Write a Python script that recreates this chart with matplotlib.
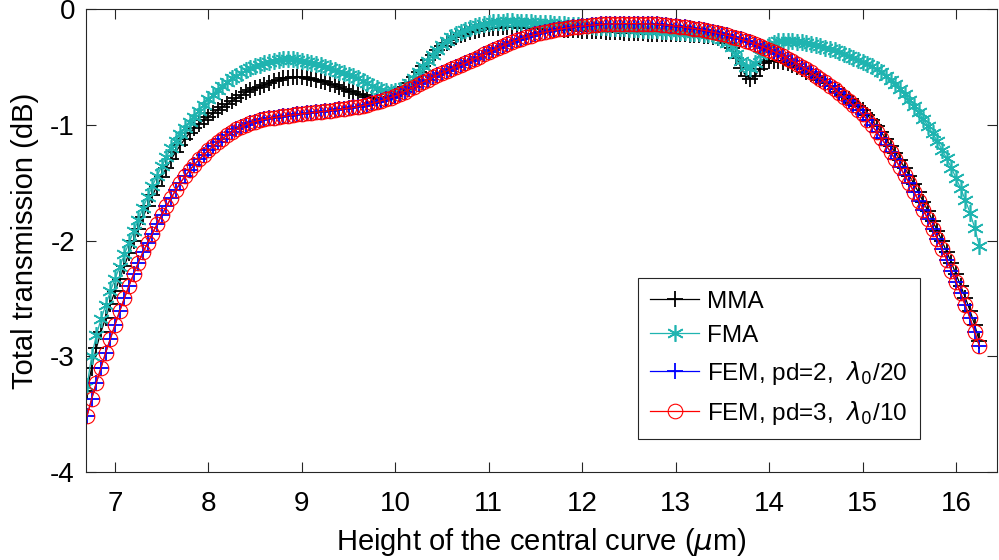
import numpy as np
import matplotlib
matplotlib.use('Agg')
import matplotlib.pyplot as plt

plt.rcParams['font.family'] = ['Liberation Sans', 'DejaVu Sans']
plt.rcParams['mathtext.fontset'] = 'dejavusans'
plt.rcParams['axes.unicode_minus'] = False

# height of the central curve (um), 0.05 um steps from 6.70 to 16.25
height = np.round(6.70 + 0.05 * np.arange(192), 2)

# total transmission (dB)
mma = [
    -3.30, -3.10, -2.93, -2.79, -2.67, -2.55, -2.44, -2.33, -2.22, -2.11,
    -2.00, -1.90, -1.80, -1.70, -1.61, -1.53, -1.45, -1.37, -1.30, -1.235,
    -1.175, -1.12, -1.07, -1.03, -0.99, -0.96, -0.93, -0.90, -0.87, -0.845,
    -0.82, -0.795, -0.77, -0.745, -0.72, -0.70, -0.685, -0.67, -0.655, -0.64,
    -0.625, -0.61, -0.60, -0.592, -0.588, -0.587, -0.59, -0.595, -0.602, -0.61,
    -0.62, -0.632, -0.645, -0.66, -0.675, -0.69, -0.705, -0.72, -0.733, -0.745,
    -0.756, -0.765, -0.772, -0.775, -0.772, -0.76, -0.74, -0.71, -0.675, -0.635,
    -0.59, -0.54, -0.49, -0.44, -0.395, -0.355, -0.32, -0.29, -0.265, -0.245,
    -0.228, -0.213, -0.2, -0.19, -0.181, -0.174, -0.168, -0.164, -0.161, -0.159,
    -0.158, -0.158, -0.159, -0.16, -0.162, -0.164, -0.166, -0.168, -0.17, -0.172,
    -0.174, -0.176, -0.178, -0.18, -0.182, -0.184, -0.186, -0.188, -0.19, -0.192,
    -0.194, -0.196, -0.198, -0.2, -0.202, -0.204, -0.206, -0.208, -0.21, -0.211,
    -0.212, -0.213, -0.214, -0.215, -0.216, -0.217, -0.218, -0.219, -0.22, -0.222,
    -0.224, -0.227, -0.23, -0.234, -0.24, -0.25, -0.265, -0.29, -0.34, -0.42,
    -0.51, -0.575, -0.605, -0.58, -0.515, -0.47, -0.452, -0.447, -0.448, -0.455,
    -0.467, -0.483, -0.502, -0.522, -0.543, -0.565, -0.588, -0.612, -0.637, -0.663,
    -0.69, -0.718, -0.747, -0.777, -0.808, -0.84, -0.875, -0.915, -0.96, -1.01,
    -1.065, -1.12, -1.18, -1.24, -1.305, -1.37, -1.44, -1.51, -1.585, -1.665,
    -1.745, -1.83, -1.915, -2.005, -2.095, -2.19, -2.29, -2.39, -2.495, -2.605,
    -2.73, -2.87,
]

fma = [
    -3.26, -3.00, -2.82, -2.68, -2.56, -2.44, -2.33, -2.23, -2.12, -2.02,
    -1.92, -1.82, -1.72, -1.62, -1.53, -1.44, -1.36, -1.28, -1.20, -1.14,
    -1.08, -1.03, -0.98, -0.93, -0.88, -0.83, -0.78, -0.74, -0.70, -0.665,
    -0.63, -0.60, -0.575, -0.55, -0.53, -0.51, -0.495, -0.48, -0.467, -0.455,
    -0.446, -0.44, -0.436, -0.435, -0.436, -0.44, -0.447, -0.455, -0.465, -0.475,
    -0.487, -0.50, -0.513, -0.527, -0.54, -0.553, -0.567, -0.582, -0.60, -0.62,
    -0.642, -0.663, -0.682, -0.698, -0.709, -0.714, -0.712, -0.70, -0.675, -0.64,
    -0.595, -0.545, -0.495, -0.445, -0.395, -0.35, -0.31, -0.275, -0.245, -0.22,
    -0.20, -0.18, -0.165, -0.15, -0.14, -0.13, -0.12, -0.115, -0.11, -0.108,
    -0.107, -0.107, -0.108, -0.11, -0.112, -0.115, -0.118, -0.12, -0.122, -0.125,
    -0.127, -0.13, -0.133, -0.136, -0.139, -0.142, -0.145, -0.148, -0.15, -0.153,
    -0.155, -0.158, -0.16, -0.163, -0.165, -0.168, -0.17, -0.172, -0.175, -0.177,
    -0.18, -0.182, -0.185, -0.187, -0.19, -0.192, -0.195, -0.197, -0.20, -0.203,
    -0.206, -0.21, -0.215, -0.22, -0.228, -0.24, -0.26, -0.29, -0.33, -0.39,
    -0.45, -0.50, -0.51, -0.47, -0.40, -0.345, -0.31, -0.29, -0.28, -0.275,
    -0.275, -0.278, -0.282, -0.288, -0.295, -0.303, -0.312, -0.322, -0.333, -0.345,
    -0.358, -0.372, -0.388, -0.405, -0.422, -0.44, -0.455, -0.475, -0.495, -0.52,
    -0.545, -0.575, -0.61, -0.65, -0.69, -0.735, -0.785, -0.835, -0.89, -0.95,
    -1.01, -1.075, -1.14, -1.215, -1.29, -1.37, -1.46, -1.55, -1.65, -1.76,
    -1.89, -2.05,
]

fem_pd2 = [
    -3.52, -3.37, -3.23, -3.10, -2.97, -2.85, -2.73, -2.61, -2.50, -2.39,
    -2.29, -2.19, -2.10, -2.02, -1.94, -1.86, -1.78, -1.705, -1.635, -1.565,
    -1.50, -1.445, -1.39, -1.345, -1.30, -1.26, -1.22, -1.185, -1.15, -1.12,
    -1.09, -1.065, -1.04, -1.02, -1.00, -0.985, -0.972, -0.962, -0.953, -0.945,
    -0.938, -0.932, -0.926, -0.92, -0.915, -0.91, -0.905, -0.90, -0.896, -0.892,
    -0.888, -0.883, -0.878, -0.873, -0.868, -0.863, -0.857, -0.85, -0.843, -0.835,
    -0.826, -0.816, -0.805, -0.793, -0.78, -0.765, -0.75, -0.733, -0.714, -0.694,
    -0.673, -0.652, -0.631, -0.61, -0.59, -0.571, -0.553, -0.536, -0.519, -0.502,
    -0.485, -0.467, -0.449, -0.43, -0.411, -0.392, -0.373, -0.354, -0.336, -0.318,
    -0.301, -0.285, -0.27, -0.256, -0.243, -0.231, -0.22, -0.21, -0.2, -0.191,
    -0.183, -0.176, -0.169, -0.163, -0.157, -0.152, -0.147, -0.143, -0.139, -0.136,
    -0.133, -0.131, -0.129, -0.128, -0.127, -0.126, -0.126, -0.126, -0.127, -0.128,
    -0.129, -0.131, -0.133, -0.136, -0.139, -0.143, -0.147, -0.152, -0.157, -0.163,
    -0.169, -0.176, -0.183, -0.191, -0.199, -0.208, -0.217, -0.227, -0.238, -0.249,
    -0.261, -0.274, -0.288, -0.302, -0.317, -0.333, -0.35, -0.368, -0.387, -0.407,
    -0.428, -0.45, -0.473, -0.497, -0.522, -0.548, -0.575, -0.603, -0.632, -0.662,
    -0.693, -0.726, -0.76, -0.795, -0.832, -0.87, -0.91, -0.955, -1.005, -1.06,
    -1.115, -1.175, -1.235, -1.30, -1.365, -1.435, -1.505, -1.58, -1.655, -1.735,
    -1.815, -1.90, -1.985, -2.075, -2.165, -2.26, -2.355, -2.455, -2.56, -2.67,
    -2.79, -2.91,
]

# pd=3 result lies on top of pd=2 at this scale
fem_pd3 = list(fem_pd2)

labels = ['MMA', 'FMA', r'FEM, pd=2,  $\lambda_0$/20', r'FEM, pd=3,  $\lambda_0$/10']

fig = plt.figure(figsize=(9.99, 5.6), dpi=100)
ax = fig.add_axes([0.0861, 0.1571, 0.912, 0.8268])

asterisk = (6, 2, 0)
ax.plot(height, mma, '-', color='k', marker='+', ms=12, mew=1.3, lw=0.9, label=labels[0])
ax.plot(height, fma, '-', color='#1fb4b0', marker=asterisk, ms=12, mew=1.2, lw=0.9, label=labels[1])
ax.plot(height, fem_pd2, '-', color='b', marker='+', ms=12, mew=1.3, lw=0.9, label=labels[2])
ax.plot(height, fem_pd3, '-', color='r', marker='o', ms=10.5, mfc='none', mew=0.8, lw=0.9, label=labels[3])

ax.set_xlim(6.69, 16.44)
ax.set_ylim(-4, 0)
ax.set_xticks(range(7, 17))
ax.set_yticks([-4, -3, -2, -1, 0])
ax.tick_params(direction='in', top=True, right=True, labelsize=20, length=7,
               color='#262626', width=0.8)
ax.tick_params(axis='x', pad=14)
ax.tick_params(axis='y', pad=8)
for s in ax.spines.values():
    s.set_color('#262626')
    s.set_linewidth(0.8)

ax.set_xlabel(r'Height of the central curve ($\mu$m)', fontsize=21, labelpad=6)
ax.set_ylabel('Total transmission (dB)', fontsize=21, labelpad=8)

leg = ax.legend(loc='lower left', bbox_to_anchor=(0.606, 0.071), fontsize=17.5,
                frameon=True, fancybox=False, edgecolor='#262626', framealpha=1,
                handlelength=2.0, handletextpad=0.35, borderpad=0.5, labelspacing=0.5,
                borderaxespad=0)
leg.get_frame().set_linewidth(0.8)

fig.savefig('out.png', dpi=100)
